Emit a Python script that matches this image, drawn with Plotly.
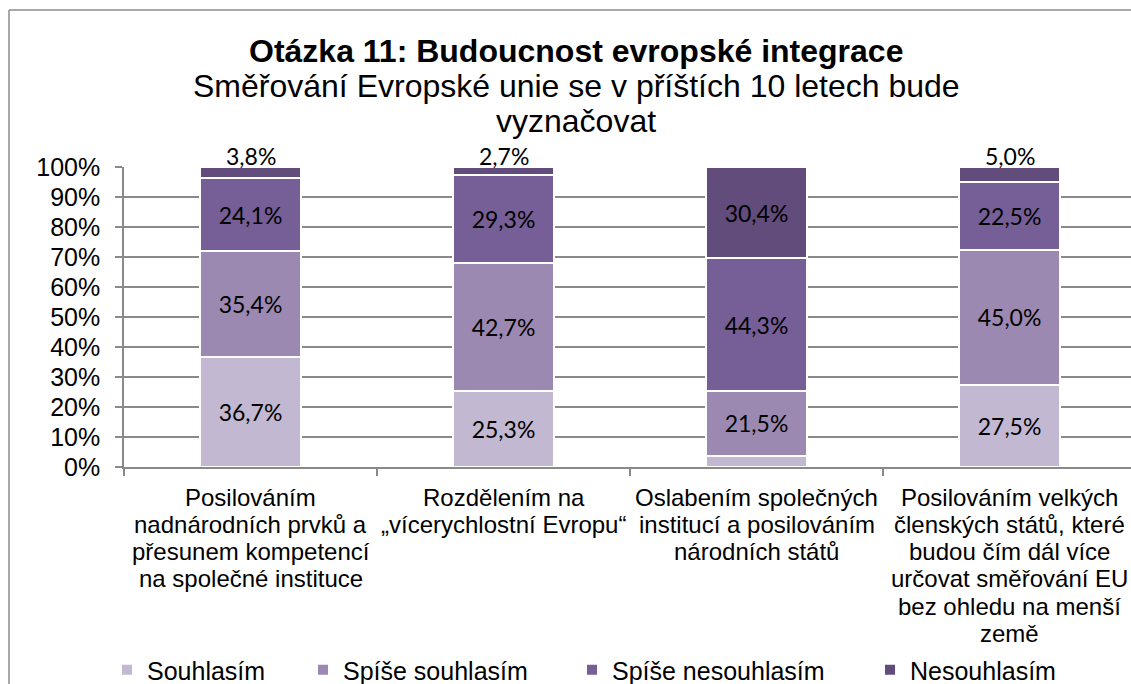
import plotly.graph_objects as go

# ---------------- data ----------------
categories = [
    "Posilováním<br>nadnárodních prvků a<br>přesunem kompetencí<br>na společné instituce",
    "Rozdělením na<br>„vícerychlostní Evropu“",
    "Oslabením společných<br>institucí a posilováním<br>národních států",
    "Posilováním velkých<br>členských států, které<br>budou čím dál více<br>určovat směřování EU<br>bez ohledu na menší<br>země",
]
series_names = ["Souhlasím", "Spíše souhlasím", "Spíše nesouhlasím", "Nesouhlasím"]
souhlasim = [36.7, 25.3, 3.8, 27.5]
spise_souhlasim = [35.4, 42.7, 21.5, 45.0]
spise_nesouhlasim = [24.1, 29.3, 44.3, 22.5]
nesouhlasim = [3.8, 2.7, 30.4, 5.0]
y_ticks = [0, 10, 20, 30, 40, 50, 60, 70, 80, 90, 100]
y_ticklabels = [f"{t}%" for t in y_ticks]

title_text = "Otázka 11: Budoucnost evropské integrace"
subtitle_lines = ["Směřování Evropské unie se v příštích 10 letech bude", "vyznačovat"]

# ---------------- layout helpers ----------------
W, H = 1131, 684
ML, MT = 124, 167
PLOT_BOTTOM = 467
MR, MB = 0, H - PLOT_BOTTOM
PW, PH = W - ML - MR, H - MT - MB


def px_x(px):
    return (px - ML) / PW


def px_y(py):
    return (MT + PH - py) / PH


FONT = "Liberation Sans, Arial, sans-serif"
LABEL_FONT = "Lato, Carlito, sans-serif"
colors = ["#C2B8D1", "#9C89B2", "#765E97", "#614C7B"]
series_vals = [souhlasim, spise_souhlasim, spise_nesouhlasim, nesouhlasim]
cat_keys = [f"c{i}" for i in range(len(categories))]


def fmt(v):
    return f"{v:.1f}".replace(".", ",") + "%"


fig = go.Figure()
legend_x = [107, 303, 572, 870]
legend_ids = ["legend", "legend2", "legend3", "legend4"]
annotations = []
for i, (name, vals, col) in enumerate(zip(series_names, series_vals, colors)):
    is_top = i == len(series_vals) - 1
    texts = []
    for j, v in enumerate(vals):
        if is_top and v < 10:
            texts.append("")
            top = sum(s[j] for s in series_vals)
            annotations.append(dict(
                text=fmt(v), x=cat_keys[j], y=top, xref="x", yref="y",
                xanchor="center", yanchor="bottom", yshift=-5, showarrow=False,
                font=dict(family=LABEL_FONT, size=23, color="#000000"),
            ))
        elif v < 5:
            texts.append("")
        else:
            texts.append(fmt(v))
    fig.add_trace(go.Bar(
        name=name, x=cat_keys, y=vals, width=0.4,
        marker=dict(color=col, line=dict(color="white", width=2)),
        text=texts, textposition="inside", insidetextanchor="middle",
        textfont=dict(family=LABEL_FONT, size=23, color="#000000"),
        cliponaxis=False, legend=legend_ids[i], hoverinfo="skip",
    ))

layout_legends = {}
for i, lid in enumerate(legend_ids):
    layout_legends[lid] = dict(
        x=px_x(legend_x[i]), xanchor="left", y=px_y(670), yanchor="middle",
        orientation="h", bgcolor="rgba(0,0,0,0)", borderwidth=0,
        font=dict(family=FONT, size=25, color="#000000"),
        itemwidth=30, itemclick=False, itemdoubleclick=False,
    )

fig.update_layout(
    width=W, height=H,
    margin=dict(l=ML, r=MR, t=MT, b=MB, pad=0, autoexpand=False),
    paper_bgcolor="white", plot_bgcolor="white",
    barmode="stack", showlegend=True,
    font=dict(family=FONT, color="#000000"),
    **layout_legends,
)

fig.update_xaxes(
    type="category", range=[-0.5, 3.48], showticklabels=False,
    showline=True, linecolor="#898989", linewidth=1.5,
    ticks="outside", tickson="boundaries", ticklen=7, tickcolor="#898989", tickwidth=1.5,
    showgrid=False, zeroline=False, fixedrange=True, automargin=False,
)
fig.update_yaxes(
    range=[0, 100], tickvals=y_ticks, ticktext=y_ticklabels,
    showline=True, linecolor="#898989", linewidth=1.5,
    ticks="outside", ticklen=7, tickcolor="#898989", tickwidth=1.5,
    showgrid=True, gridcolor="#898989", gridwidth=1.5,
    zeroline=False, ticklabelstandoff=10,
    tickfont=dict(family=FONT, size=25, color="#000000"),
    fixedrange=True, automargin=False,
)

# title and subtitle
annotations.append(dict(
    text=f"<b>{title_text}</b>", x=px_x(576), y=px_y(51), xref="paper", yref="paper",
    xanchor="center", yanchor="middle", showarrow=False,
    font=dict(family=FONT, size=32, color="#000000"),
))
for k, line in enumerate(subtitle_lines):
    annotations.append(dict(
        text=line, x=px_x(576), y=px_y(86 + 35 * k), xref="paper", yref="paper",
        xanchor="center", yanchor="middle", showarrow=False,
        font=dict(family=FONT, size=32, color="#000000"),
    ))
# category labels, one annotation per line
for ck, lab in zip(cat_keys, categories):
    for k, line in enumerate(lab.split("<br>")):
        annotations.append(dict(
            text=line, x=ck, xref="x", y=px_y(497 + 27.3 * k), yref="paper",
            xanchor="center", yanchor="middle", showarrow=False,
            font=dict(family=FONT, size=24, color="#000000"),
        ))
fig.update_layout(annotations=annotations)

# chart-area frame (extends past the visible window on the right and bottom)
fig.add_shape(type="line", xref="paper", yref="paper",
              x0=px_x(9), x1=px_x(9), y0=px_y(10), y1=px_y(720),
              line=dict(color="#8C8C8C", width=1.5))
fig.add_shape(type="line", xref="paper", yref="paper",
              x0=px_x(9), x1=px_x(1160), y0=px_y(10), y1=px_y(10),
              line=dict(color="#8C8C8C", width=1.5))

fig.write_html(
    "out.html",
    config={"displayModeBar": False, "staticPlot": False},
    post_script="document.body.style.margin='0';document.body.style.overflow='hidden';",
)
